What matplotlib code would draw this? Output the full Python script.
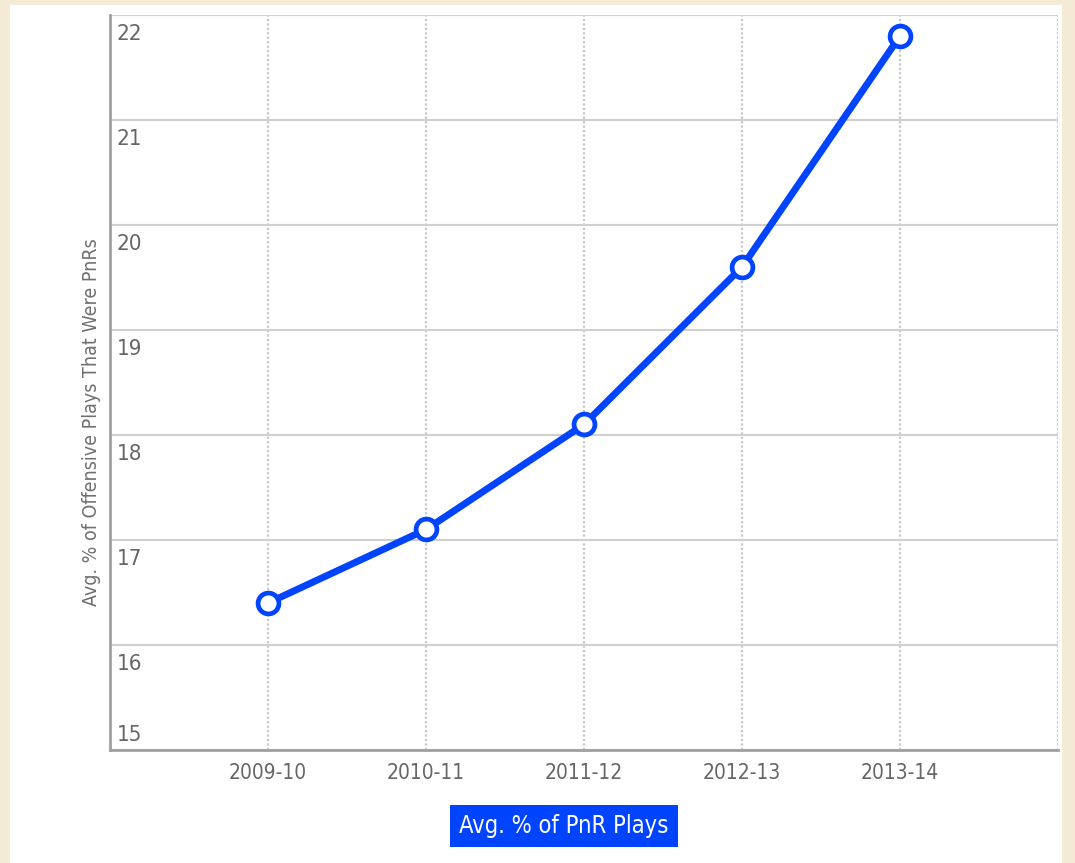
import matplotlib
matplotlib.use("Agg")
import matplotlib.pyplot as plt
import matplotlib.transforms as mtransforms
from matplotlib.patches import Rectangle

# data
seasons = ["2009-10", "2010-11", "2011-12", "2012-13", "2013-14"]
pnr_pct = [16.4, 17.1, 18.1, 19.6, 21.8]
y_ticks = [15, 16, 17, 18, 19, 20, 21, 22]

blue = "#0044ff"
txt_gray = "#666666"
plt.rcParams['font.family'] = ['DejaVu Sans']
plt.rcParams['font.stretch'] = 'condensed'

fig = plt.figure(figsize=(10.75, 8.63), dpi=100, facecolor="#f4ead6")
# white panel over the parchment background
fig.patches.append(Rectangle((10 / 1075, 0), 1052 / 1075, 858 / 863, transform=fig.transFigure,
                             facecolor="white", edgecolor="none", zorder=-5))

ax = fig.add_axes([110 / 1075, 113 / 863, 948 / 1075, 735 / 863])
ax.set_zorder(2)
ax.set_facecolor("white")

x = list(range(len(seasons)))
ax.plot(x, pnr_pct, color=blue, lw=5, marker="o", markersize=15,
        markerfacecolor="white", markeredgecolor=blue, markeredgewidth=3.4,
        zorder=5, clip_on=False)

ax.set_xlim(-1, len(seasons))
ax.set_ylim(y_ticks[0], y_ticks[-1])

# horizontal solid grid, vertical dotted grid
ax.set_yticks(y_ticks)
ax.set_xticks(x + [len(seasons)])
ax.set_xticklabels(seasons + [""])
ax.grid(axis="y", color="#d0d0d0", lw=1.5, ls="-")
ax.grid(axis="x", color="#c8c8c8", lw=1.6, ls=(0, (1, 1)))

for s in ["top", "right"]:
    ax.spines[s].set_visible(False)
for s in ["left", "bottom"]:
    ax.spines[s].set_color("#a0a0a0")
    ax.spines[s].set_linewidth(2)

ax.tick_params(axis="x", length=0, pad=9, labelsize=15, labelcolor=txt_gray)
ax.tick_params(axis="y", length=0, pad=-5, labelsize=16, labelcolor=txt_gray)

for lab in ax.get_yticklabels():
    lab.set_horizontalalignment("left")
    if lab.get_text() == str(y_ticks[0]):
        lab.set_verticalalignment("bottom")
        off = mtransforms.ScaledTranslation(0, 5 / 100, fig.dpi_scale_trans)
    else:
        lab.set_verticalalignment("top")
        off = mtransforms.ScaledTranslation(0, -9 / 100, fig.dpi_scale_trans)
    lab.set_transform(lab.get_transform() + off)

fig.text(92 / 1075, 1 - 422 / 863, "Avg. % of Offensive Plays That Were PnRs",
         rotation=90, ha="center", va="center", fontsize=14, color="#707070")

fig.text(564 / 1075, 1 - 826 / 863, "Avg. % of PnR Plays", ha="center", va="center",
         fontsize=17, color="white",
         bbox=dict(boxstyle="square,pad=0.38", facecolor=blue, edgecolor="none"))

fig.savefig("out.png", dpi=100, facecolor=fig.get_facecolor())
